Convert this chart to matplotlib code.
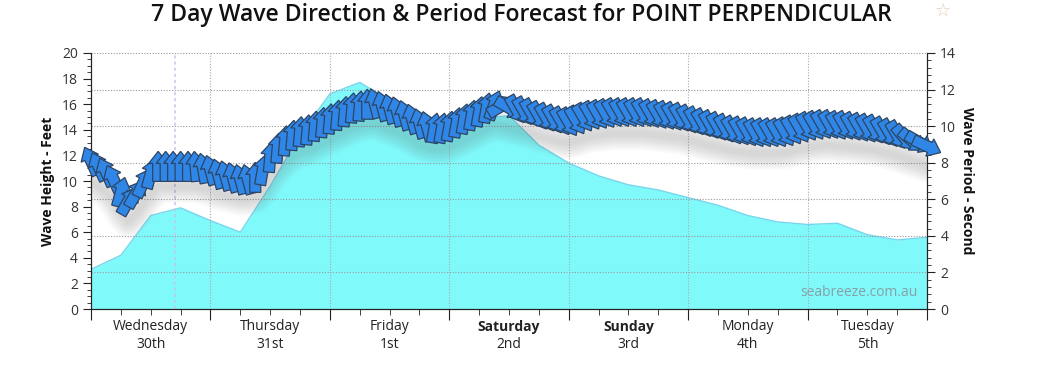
import numpy as np
import matplotlib
matplotlib.use("Agg")
import matplotlib.pyplot as plt
from matplotlib.patches import Polygon
from matplotlib.transforms import Affine2D, ScaledTranslation
from matplotlib.ticker import AutoMinorLocator, MultipleLocator

plt.rcParams['font.family'] = ['Open Sans', 'DejaVu Sans']

# --- data -------------------------------------------------------------
days = ["Wednesday", "Thursday", "Friday", "Saturday", "Sunday", "Monday", "Tuesday"]
dates = ["30th", "31st", "1st", "2nd", "3rd", "4th", "5th"]
bold_days = ["Saturday", "Sunday"]

# wave height (ft), every 6 hours
height_ft = [3.1, 4.2, 7.3, 7.9, 6.9, 6.0, 9.6, 13.6, 16.8, 17.7, 16.3, 15.2,
             14.6, 14.9, 15.1, 12.8, 11.4, 10.4, 9.7, 9.3, 8.7, 8.1, 7.3, 6.8,
             6.6, 6.7, 5.8, 5.4, 5.6]

# wave period (s), every 1.5 hours
period_s = [8.1, 7.8, 7.5, 7.1, 6.4, 5.9, 6.3, 6.9, 7.4, 7.8,
            7.8, 7.8, 7.8, 7.8, 7.8, 7.7, 7.6, 7.4, 7.3, 7.2,
            7.1, 7.1, 7.2, 7.6, 8.3, 8.8, 9.2, 9.5, 9.7, 9.8,
            10.0, 10.2, 10.4, 10.6, 10.8, 11.0, 11.1, 11.2, 11.25, 11.1,
            10.95, 10.8, 10.6, 10.4, 10.15, 10.0, 9.9, 9.9, 10.0, 10.2,
            10.4, 10.6, 10.8, 11.0, 11.15, 11.1, 11.0, 10.9, 10.8, 10.7,
            10.55, 10.45, 10.35, 10.25, 10.2, 10.3, 10.45, 10.55, 10.6, 10.65,
            10.7, 10.7, 10.7, 10.7, 10.7, 10.65, 10.6, 10.55, 10.5, 10.45,
            10.35, 10.25, 10.15, 10.05, 9.95, 9.85, 9.75, 9.7, 9.65, 9.6,
            9.6, 9.6, 9.6, 9.65, 9.75, 9.85, 9.95, 10.0, 10.05, 10.05,
            10.0, 10.0, 9.95, 9.9, 9.85, 9.8, 9.7, 9.6, 9.5, 9.35,
            9.2, 9.1, 8.9]

# arrow heading (deg clockwise from up), every 1.5 hours
direction_deg = [-25, -25, -25, -25, 15, 30, 30, 25, 15, 0,
                 0, 0, 0, 0, -5, -10, -15, -15, -15, -15,
                 -15, -15, 0, 10, 5, 5, 5, 5, 5, 5,
                 5, 5, 5, 5, 5, 5, 5, 0, -15, -15,
                 -15, -15, -15, -15, -15, -15, 10, 10, 10, 10,
                 10, 10, 10, 10, 20, 60, 120] + [150] * 52 + [140, 130, 120, 115]

t_height = np.arange(len(height_ft)) * 0.25
t_period = np.arange(len(period_s)) * 1.5 / 24

# --- figure -----------------------------------------------------------
fig = plt.figure(figsize=(10.56, 3.66), dpi=100)
ax = fig.add_axes([0.0862, 0.1557, 0.7917, 0.6995])
ax2 = ax.twinx()

ax.fill_between(t_height, height_ft, color='#80f9fb', lw=0, zorder=1)
ax.plot(t_height, height_ft, color='#74d6ec', lw=1, zorder=1.5)
ax.set_ylim(0, 20)
ax.set_xlim(0, 7)
ax.yaxis.set_major_locator(MultipleLocator(2))
ax.yaxis.set_minor_locator(AutoMinorLocator(4))
ax.xaxis.set_major_locator(MultipleLocator(1))
ax.xaxis.set_minor_locator(MultipleLocator(0.25))
ax.set_xticklabels([])

ax2.set_ylim(0, 14)
ax2.yaxis.set_major_locator(MultipleLocator(2))
ax2.yaxis.set_minor_locator(AutoMinorLocator(5))
ax2.grid(axis='y', color='#999999', ls=(0, (1, 1.5)), lw=0.8, zorder=0)
for d in range(1, 7):
    ax2.axvline(d, color='#aaaaaa', ls=(0, (1, 1.5)), lw=0.8, zorder=0.5)
ax2.axvline(0.70, color='#c4c4ec', ls=(0, (2, 2)), lw=1.1, zorder=0.5)

for a in (ax, ax2):
    for s in a.spines.values():
        s.set_color('#222222')
    a.spines['top'].set_visible(False)
    a.tick_params(which='major', length=6, color='#222222', labelsize=10, labelcolor='#333333')
    a.tick_params(which='minor', length=3, color='#222222')
ax.tick_params(axis='x', which='major', length=8)
ax.tick_params(axis='x', which='minor', length=4)

# soft shadow under the arrows
shadow_y = np.array(period_s) - 1.1
for lw in range(4, 26, 2):
    ax2.plot(t_period, shadow_y, color='#666666', lw=lw, alpha=0.024,
             solid_capstyle='round', zorder=2)

# arrows
shape = np.array([[-5.5, -15], [5.5, -15], [5.5, 3], [9.5, 3], [0, 15], [-9.5, 3], [-5.5, 3]])
for t, p, d in zip(t_period, period_s, direction_deg):
    tr = Affine2D().rotate_deg(-d) + ScaledTranslation(t, p, ax2.transData)
    ax2.add_patch(Polygon(shape, closed=True, transform=tr, facecolor='#2f86e6',
                          edgecolor='#2d4563', lw=0.9, zorder=3, clip_on=False))

# day labels
for i, (dname, dt) in enumerate(zip(days, dates)):
    w = 'bold' if dname in bold_days else 'normal'
    ax.text(i + 0.5, -0.07, dname, transform=ax.get_xaxis_transform(), ha='center',
            va='center', fontsize=10, color='#222222', fontweight=w)
    ax.text(i + 0.5, -0.14, dt, transform=ax.get_xaxis_transform(), ha='center',
            va='center', fontsize=10, color='#222222')

ax.text(0.989, 0.066, 'seabreeze.com.au', transform=ax.transAxes, ha='right',
        va='center', fontsize=10, color='#86a0a6', zorder=5)

fig.text(0.045, 0.505, 'Wave Height - Feet', rotation=90, ha='center', va='center',
         fontsize=10, fontweight='bold', color='#111111')
fig.text(0.916, 0.505, 'Wave Period - Second', rotation=-90, ha='center', va='center',
         fontsize=10, fontweight='bold', color='#111111')
fig.text(0.4934, 0.958, '7 Day Wave Direction & Period Forecast for POINT PERPENDICULAR',
         ha='center', va='center', fontsize=16.6, color='#111111', fontweight='semibold')
fig.text(0.893, 0.972, '\u2606', ha='center', va='center', fontsize=13, color='#e2cfae',
         family=['DejaVu Sans'])

fig.savefig('out.png', dpi=100)
